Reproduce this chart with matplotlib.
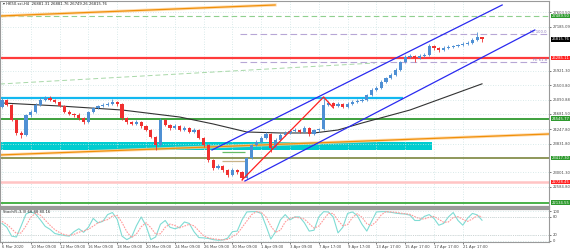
###############################################################################
#                     HK50 H4 chart with Stochastic panel                     #
###############################################################################
import numpy as np
import matplotlib
matplotlib.use("Agg")
import matplotlib.pyplot as plt

# ---------------- candles (bar index 0..100, H4) ----------------
opens = [24880, 25080, 24937, 24506, 24134, 24076, 24650, 24736, 24937, 25080,
         25137, 25080, 25023, 24908, 24736, 24679, 24650, 24564, 24449, 24736,
         24851, 24908, 24930, 24965, 25023, 24965, 24564, 24449, 24392, 24449,
         24335, 24220, 24019, 23789, 24506, 24363, 24277, 24335, 24220, 24277,
         24162, 24220, 23990, 23789, 23359, 23130, 23187, 23072, 22929, 23072,
         23015, 22843, 23417, 23789, 23875, 23990, 24105, 23703, 23933, 24076,
         24134, 24191, 24220, 24162, 24277, 24105, 24220, 24250, 24937, 24994,
         24908, 24965, 24879, 24965, 25023, 25050, 25080, 25223, 25367, 25424,
         25596, 25711, 25797, 25940, 26170, 26313, 26342, 26285, 26342, 26371,
         26629, 26571, 26514, 26571, 26600, 26620, 26657, 26686, 26715, 26801,
         26881.31]
closes = [25080, 24937, 24506, 24134, 24076, 24650, 24736, 24937, 25080, 25137,
          25080, 25023, 24908, 24736, 24679, 24650, 24564, 24449, 24736, 24851,
          24908, 24930, 24965, 25023, 24965, 24564, 24449, 24392, 24449, 24335,
          24220, 24019, 23789, 24506, 24363, 24277, 24335, 24220, 24277, 24162,
          24220, 23990, 23789, 23359, 23130, 23187, 23072, 22929, 23072, 23015,
          22843, 23417, 23789, 23875, 23990, 24105, 23703, 23933, 24076, 24134,
          24191, 24220, 24162, 24277, 24105, 24220, 24250, 24937, 24994, 24908,
          24965, 24879, 24965, 25023, 25050, 25080, 25223, 25367, 25424, 25596,
          25711, 25797, 25940, 26170, 26313, 26342, 26285, 26342, 26371, 26629,
          26571, 26514, 26571, 26600, 26620, 26657, 26686, 26715, 26801, 26881.31,
          26815.76]
highs = [25130, 25110, 24960, 24530, 24180, 24690, 24790, 24980, 25180, 25200,
         25190, 25120, 25060, 24940, 24790, 24720, 24700, 24600, 24770, 24890,
         24950, 24980, 25010, 25120, 25060, 24990, 24600, 24490, 24500, 24480,
         24370, 24250, 24040, 24560, 24540, 24400, 24380, 24360, 24320, 24300,
         24270, 24250, 24020, 23810, 23390, 23240, 23220, 23110, 23120, 23110,
         23050, 23450, 23830, 23930, 24040, 24160, 24130, 23980, 24120, 24190,
         24240, 24280, 24260, 24320, 24310, 24260, 24290, 25166, 25060, 25030,
         25010, 25000, 25010, 25070, 25100, 25130, 25260, 25410, 25470, 25640,
         25750, 25850, 25990, 26210, 26360, 26400, 26380, 26390, 26420, 26680,
         26660, 26610, 26620, 26650, 26670, 26700, 26730, 26760, 26850, 27030,
         26881.76]
lows = [24850, 24900, 24470, 24080, 24000, 24050, 24600, 24700, 24900, 25040,
        25040, 24980, 24870, 24700, 24640, 24600, 24520, 24400, 24420, 24700,
        24820, 24870, 24900, 24940, 24920, 24520, 24400, 24350, 24360, 24290,
        24180, 23980, 23646, 23760, 24330, 24230, 24250, 24180, 24190, 24120,
        24130, 23950, 23740, 23310, 23080, 23090, 23020, 22880, 22900, 22960,
        22786, 22820, 23390, 23750, 23850, 23960, 23590, 23680, 23900, 24040,
        24100, 24150, 24120, 24130, 24060, 24080, 24170, 24220, 24900, 24860,
        24880, 24840, 24850, 24930, 24990, 25010, 25050, 25190, 25330, 25400,
        25570, 25680, 25770, 25910, 26140, 26280, 26180, 26250, 26300, 26340,
        26520, 26470, 26490, 26540, 26560, 26590, 26630, 26660, 26690, 26780,
        26749.26]

# moving average (read at a few bars)
ma_bars = [0, 12, 25, 37, 44, 51, 58, 65, 70, 75, 85, 100]
ma_vals = [24994, 24908, 24793, 24592, 24392, 24162, 24134, 24134, 24220, 24420, 24793, 25543]

# stochastic (5,3,3): %K and %D per bar
stoch_k = [58, 45, 15, 12, 50, 90, 98, 90, 70, 48, 38, 24, 20, 17, 15, 30, 40, 28, 45, 75,
           60, 65, 88, 95, 72, 15, 3, 12, 50, 80, 50, 3, 12, 55, 68, 45, 40, 45, 63, 58,
           30, 10, 9, 7, 3, 1, 2, 8, 30, 32, 70, 97, 98, 98, 92, 50, 5, 30, 70, 88,
           70, 80, 80, 60, 32, 35, 80, 98, 97, 80, 26, 45, 92, 97, 85, 55, 32, 65, 97, 98,
           98, 96, 93, 91, 90, 86, 68, 68, 82, 88, 75, 52, 58, 80, 95, 68, 52, 76, 92, 87, 68.88]
stoch_d = [65, 55, 40, 24, 26, 50, 79, 93, 86, 69, 52, 37, 27, 20, 17, 21, 28, 33, 38, 49,
           60, 67, 71, 83, 85, 61, 30, 10, 22, 47, 60, 44, 22, 23, 45, 56, 51, 43, 49, 55,
           50, 33, 16, 9, 6, 4, 2, 4, 13, 23, 44, 66, 88, 98, 96, 80, 49, 28, 35, 63,
           76, 79, 77, 73, 57, 42, 49, 71, 92, 92, 68, 50, 54, 78, 91, 79, 57, 51, 65, 87,
           98, 97, 96, 93, 91, 89, 81, 74, 73, 79, 82, 72, 62, 63, 78, 81, 72, 65, 73, 85, 80.16]

# objects drawn on the chart: (bars, prices)
orange_upper = ([-0.4, 56.9], [27489, 27805])
orange_lower = ([-0.4, 114], [23503, 24105])
green_diag = ([-0.4, 77.7], [25539, 26141])
blue_upper = ([43.75, 104.2], [23646, 27805])
blue_lower = ([50.6, 111], [22757, 27088])
red_zigzag = ([50, 67, 69], [22786, 25166, 24860])
cyan_zone = (-0.4, 89.6, 23646, 23875)
cyan_line = (-0.4, 83.5, 25137)
fe_start = 49.6
fe_levels = [26982, 26170]
fe_names = ["FE 100.0", "FE 61.8"]
short_lines = [(45.8, 50.6, 23589, "#66bb66"), (45.8, 50.6, 23330, "#c8b48a")]

# horizontal levels: price, line colour, style, width, label box colour
levels = [(27489.50, "#8fd08f", (0, (5, 3)), 0.8, "#2e9a2e"),
          (26285.11, "#ff3b3b", "-", 1.6, "#ff2222"),
          (24545.77, "#2f9a2f", "-", 1.3, "#2e9a2e"),
          (23417.30, "#707a2e", "-", 1.1, "#2e9a2e"),
          (22728.45, "#ffc4c4", "-", 1.8, "#ff2222"),
          (22134.55, "#3aab3a", "-", 1.3, "#2e9a2e")]

price_ticks = [27603.50, 27185.09, 25921.30, 25503.80, 25090.88, 24681.50,
               24247.80, 23831.80, 23001.30, 22584.80]
tick_bars = list(range(0, 97, 6))
tick_labels = ["6 Mar 2020", "10 Mar 09:00", "12 Mar 09:00", "16 Mar 09:00", "18 Mar 09:00",
               "20 Mar 09:00", "24 Mar 09:00", "26 Mar 09:00", "30 Mar 09:00", "1 Apr 09:00",
               "3 Apr 09:00", "7 Apr 17:00", "9 Apr 17:00", "13 Apr 17:00", "15 Apr 17:00",
               "17 Apr 17:00", "21 Apr 17:00"]

###############################################################################
#                                  Drawing                                    #
###############################################################################
fs = 2.7   # MT4 uses a tiny font

fig = plt.figure(figsize=(5.71, 2.5), dpi=100)
ax = fig.add_axes([0.0, 0.172, 0.9615, 0.824])
ax2 = fig.add_axes([0.0, 0.032, 0.9615, 0.132], sharex=ax)

grid_col = "#cde3e3"
for a in (ax, ax2):
    a.grid(True, ls=(0, (1, 2)), color=grid_col, lw=0.6)
    for s in a.spines.values():
        s.set_color("#9a9a9a")
        s.set_linewidth(0.8)
ax.spines["bottom"].set_linewidth(1.6)
ax2.spines["top"].set_linewidth(1.6)

o = np.array(opens); c = np.array(closes)
h = np.array(highs); l = np.array(lows)
idx = np.arange(len(c))
up = c >= o
col = np.where(up, "#4f90d4", "#f03030")

# zones and lines under the candles
ax.fill_between([cyan_zone[0], cyan_zone[1]], cyan_zone[2], cyan_zone[3],
                color="#00cdd0", lw=0, zorder=1)
ax.hlines(cyan_line[2], cyan_line[0], cyan_line[1], color="#12b8f0", lw=1.6, zorder=2)
for price, lc, ls, lw, bc in levels:
    ax.axhline(price, color=lc, ls=ls, lw=lw, zorder=2)
for x0, x1, y, sc in short_lines:
    ax.hlines(y, x0, x1, color=sc, lw=0.9, zorder=2)
ax.plot(*green_diag, color="#a8d8a8", ls=(0, (5, 3)), lw=0.7, zorder=2)
for line in (orange_upper, orange_lower):
    ax.plot(*line, color="#ffd29a", lw=2.2, alpha=0.8, zorder=2)
    ax.plot(*line, color="#f0900a", lw=0.9, zorder=2)
for y, name in zip(fe_levels, fe_names):
    ax.hlines(y, fe_start, 114, color="#b7a6d6", ls=(0, (6, 3)), lw=0.8, zorder=2)
    ax.text(113.5, y, name, color="#8a78b8", fontsize=fs, ha="right", va="bottom", zorder=5)

ax.plot(ma_bars, ma_vals, color="#333333", lw=0.8, zorder=3)

# candles
ax.vlines(idx, l, h, color=col, lw=0.6, zorder=4)
ax.bar(idx, np.abs(c - o) + 8, bottom=np.minimum(o, c), width=0.68, color=col, lw=0, zorder=4)

ax.plot(*blue_upper, color="#2a2af0", lw=0.9, zorder=5)
ax.plot(*blue_lower, color="#2a2af0", lw=0.9, zorder=5)
ax.plot(*red_zigzag, color="#ff2020", lw=0.9, zorder=5)

ax.set_xlim(-0.42, 113.96)
ax.set_ylim(22011, 27919)
ax.set_xticks(tick_bars)
ax.tick_params(axis="x", labelbottom=False, length=0)
ax.yaxis.tick_right()
ax.set_yticks(price_ticks)
ax.set_yticklabels(["%.2f" % p for p in price_ticks])
ax.tick_params(axis="y", labelsize=fs, length=1.5, width=0.5, pad=1, colors="#444444")

# coloured price boxes on the right scale
tr = ax.get_yaxis_transform()
for price, lc, ls, lw, bc in levels:
    ax.text(1.005, price, "%.2f" % price, transform=tr, fontsize=fs, color="white",
            ha="left", va="center", clip_on=False,
            bbox=dict(boxstyle="square,pad=0.12", fc=bc, ec="none"))
ax.text(1.005, closes[-1], "%.2f" % closes[-1], transform=tr, fontsize=fs, color="white",
        ha="left", va="center", clip_on=False,
        bbox=dict(boxstyle="square,pad=0.12", fc="black", ec="none"))

ax.text(0.006, 0.993, "\u25be HK50.ssi,H4  %.2f %.2f %.2f %.2f" % (opens[-1], highs[-1], lows[-1], closes[-1]),
        transform=ax.transAxes, fontsize=fs, color="#222222", ha="left", va="top")

# stochastic panel
ax2.plot(idx, stoch_k, color="#7fdcd4", lw=0.8)
ax2.plot(idx, stoch_d, color="#ff9a9a", lw=0.8, ls=(0, (1.5, 1)))
ax2.axhline(20, color="#bbbbbb", ls=(0, (1, 2)), lw=0.5)
ax2.axhline(80, color="#bbbbbb", ls=(0, (1, 2)), lw=0.5)
ax2.set_ylim(-5, 107)
ax2.yaxis.tick_right()
ax2.set_yticks([0, 20, 80, 100])
ax2.set_yticklabels(["0", "20", "80", "100"])
ax2.tick_params(axis="y", labelsize=fs, length=1.5, width=0.5, pad=1, colors="#444444")
ax2.text(0.006, 0.97, "Stoch(5,3,3) %.2f %.2f" % (stoch_k[-1], stoch_d[-1]),
         transform=ax2.transAxes, fontsize=fs, color="#222222", ha="left", va="top")
ax2.set_xticks(tick_bars)
ax2.set_xticklabels(tick_labels, ha="left")
ax2.tick_params(axis="x", labelsize=fs, length=1.5, width=0.5, pad=0.8, colors="#444444")

fig.savefig("out.png", dpi=100)
